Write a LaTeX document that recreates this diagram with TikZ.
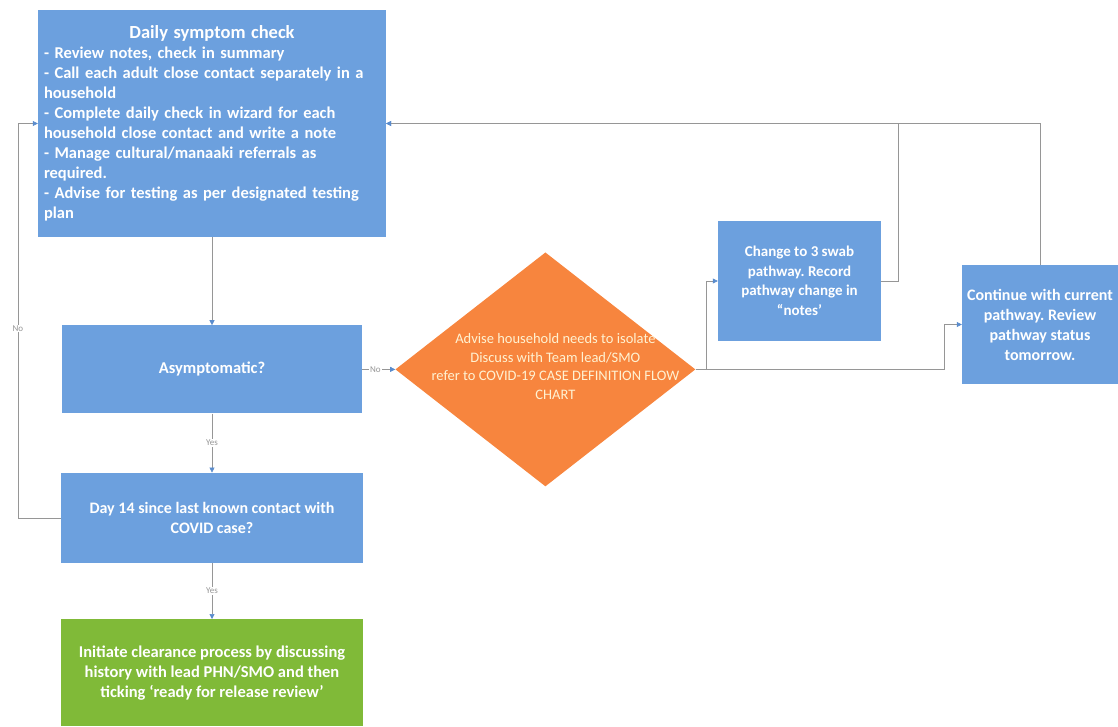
\documentclass[tikz,border=0pt]{standalone}
\usepackage{fontspec}
\setmainfont{Carlito}
\usetikzlibrary{shapes.geometric,arrows.meta,positioning}

\definecolor{boxblue}{RGB}{108,160,222}
\definecolor{diamondorange}{RGB}{247,133,62}
\definecolor{boxgreen}{RGB}{128,186,56}
\definecolor{linegray}{RGB}{150,150,150}
\definecolor{tipblue}{RGB}{90,140,205}
\definecolor{palecream}{RGB}{255,242,210}

\frenchspacing
\begin{document}
\begin{tikzpicture}[
    x=1pt, y=-1pt,
    stepbox/.style={rectangle, fill=boxblue, text=white, align=center, inner sep=4pt, font=\fontsize{16}{20}\selectfont\bfseries},
    endbox/.style={stepbox, fill=boxgreen},
    decision/.style={diamond, fill=diamondorange, inner sep=0pt, minimum width=300pt, minimum height=234pt},
    decisiontext/.style={text=palecream, align=center, font=\fontsize{14.5}{18.5}\selectfont},
    arrow/.style={draw=linegray, line width=0.6pt, -{Triangle[length=5pt, width=5pt, color=tipblue]}},
    answer/.style={fill=white, text=linegray, inner sep=1pt, font=\fontsize{9}{10}\selectfont}
]
\useasboundingbox (0,0) rectangle (1118,727);

% Left column
\node[stepbox, minimum width=348pt, minimum height=227pt, text width=336pt, align=left, font=\fontsize{16.5}{20}\selectfont\bfseries] (check) at (212,123.5)
    {{\centering\fontsize{18.5}{26}\selectfont Daily symptom check\par}
     - Review notes, check in summary\\
     - Call each adult close contact separately in a\\
     household\\
     - Complete daily check in wizard for each\\
     household close contact and write a note\\
     - Manage cultural/manaaki referrals as\\
     required.\\
     - Advise for testing as per designated testing\\
     plan};
\node[stepbox, minimum width=300pt, minimum height=88pt, below=88pt of check, font=\fontsize{16.5}{20}\selectfont\bfseries] (asym) {Asymptomatic?};
\node[stepbox, minimum width=302pt, minimum height=90pt, below=59pt of asym] (day14)
    {Day 14 since last known contact with\\COVID case?};
\node[endbox, minimum width=302pt, minimum height=107pt, below=56pt of day14, font=\fontsize{16.5}{20}\selectfont\bfseries] (clear)
    {Initiate clearance process by discussing\\history with lead PHN/SMO and then\\ticking ‘ready for release review’};

% Decision
\node[decision, right=33pt of asym] (isolate) {};
\node[decisiontext, xshift=10pt, yshift=3pt] (isolatetext) at (isolate.center)
    {Advise household needs to isolate\\Discuss with Team lead/SMO\\refer to COVID-19 CASE DEFINITION FLOW\\CHART};

% Right side
\node[stepbox, minimum width=163pt, minimum height=120pt, font=\fontsize{15}{19.5}\selectfont\bfseries] (change) at (799.5,281)
    {Change to 3 swab\\pathway. Record\\pathway change in\\“notes’};
\node[stepbox, minimum width=156pt, minimum height=119pt] (cont) at (1040,324.5)
    {Continue with current\\pathway. Review\\pathway status\\tomorrow.};

% Arrows
\draw[arrow] (check) -- (asym);
\draw[arrow] (asym) -- node[answer, pos=0.4] {No} (isolate);
\draw[arrow] (asym) -- node[answer] {Yes} (day14);
\draw[arrow] (day14) -- node[answer] {Yes} (clear);
\draw[arrow] (day14.west) -- ++(-43pt,0) |- node[answer, pos=0.24] {No} (check.west);
\draw[arrow] (isolate.east) -- ++(11pt,0) |- (change.west);
\draw[arrow] (isolate.east) -| ([xshift=-18pt]cont.west) -- (cont.west);
\draw[arrow] (change.east) -- ++(17pt,0) |- (check.east);
\draw[arrow] (cont.north) |- (check.east);

\end{tikzpicture}
\end{document}
